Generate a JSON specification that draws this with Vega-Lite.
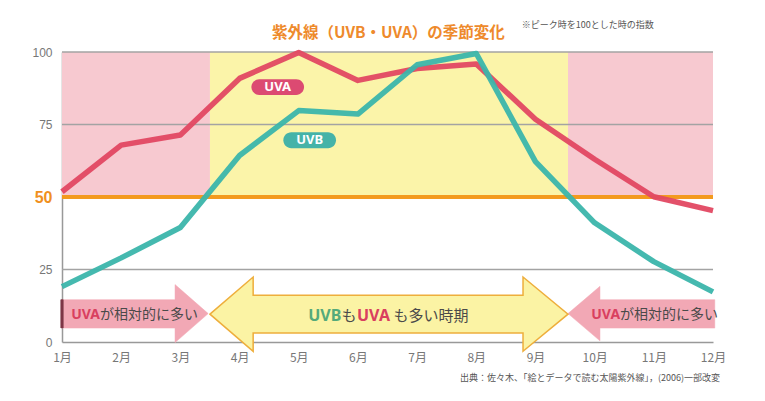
{
  "$schema": "https://vega.github.io/schema/vega-lite/v6.json",
  "width": 651,
  "height": 290,
  "autosize": "none",
  "padding": {"left": 62, "top": 52, "right": 52, "bottom": 59},
  "background": "white",
  "title": {
    "text": "紫外線（UVB・UVA）の季節変化",
    "font": "Noto Sans CJK JP",
    "fontSize": 15.5,
    "fontWeight": "bold",
    "color": "#ee8a2c",
    "anchor": "start",
    "frame": "group",
    "dx": 210,
    "dy": 32,
    "offset": 12
  },
  "config": {"view": {"stroke": null}, "font": "Noto Sans CJK JP"},
  "resolve": {"scale": {"color": "independent"}},
  "datasets": {
    "bands": [
      {"from": 1, "to": 3.5, "zone": "UVA"},
      {"from": 3.5, "to": 9.55, "zone": "both"},
      {"from": 9.55, "to": 12, "zone": "UVA"}
    ],
    "grid": [{"v": 25}, {"v": 75}, {"v": 100}],
    "series": [
      {"month": 1, "series": "UVA", "value": 51.8},
      {"month": 2, "series": "UVA", "value": 67.9},
      {"month": 3, "series": "UVA", "value": 71.4},
      {"month": 4, "series": "UVA", "value": 90.9},
      {"month": 5, "series": "UVA", "value": 99.8},
      {"month": 6, "series": "UVA", "value": 90.2},
      {"month": 7, "series": "UVA", "value": 94.3},
      {"month": 8, "series": "UVA", "value": 95.9},
      {"month": 9, "series": "UVA", "value": 76.8},
      {"month": 10, "series": "UVA", "value": 63.0},
      {"month": 11, "series": "UVA", "value": 50.1},
      {"month": 12, "series": "UVA", "value": 45.3},
      {"month": 1, "series": "UVB", "value": 19.1},
      {"month": 2, "series": "UVB", "value": 29.0},
      {"month": 3, "series": "UVB", "value": 39.5},
      {"month": 4, "series": "UVB", "value": 64.3},
      {"month": 5, "series": "UVB", "value": 79.8},
      {"month": 6, "series": "UVB", "value": 78.6},
      {"month": 7, "series": "UVB", "value": 95.6},
      {"month": 8, "series": "UVB", "value": 99.5},
      {"month": 9, "series": "UVB", "value": 62.2},
      {"month": 10, "series": "UVB", "value": 41.1},
      {"month": 11, "series": "UVB", "value": 27.7},
      {"month": 12, "series": "UVB", "value": 17.3}
    ],
    "arrows": [
      {"shape": "left", "i": 1, "x": 1, "y": 14.6},
      {"shape": "left", "i": 2, "x": 2.91, "y": 14.6},
      {"shape": "left", "i": 3, "x": 2.91, "y": 19.8},
      {"shape": "left", "i": 4, "x": 3.47, "y": 9.8},
      {"shape": "left", "i": 5, "x": 2.91, "y": -0.2},
      {"shape": "left", "i": 6, "x": 2.91, "y": 4.8},
      {"shape": "left", "i": 7, "x": 1, "y": 4.8},
      {"shape": "right", "i": 1, "x": 12.03, "y": 14.6},
      {"shape": "right", "i": 2, "x": 10.09, "y": 14.6},
      {"shape": "right", "i": 3, "x": 10.09, "y": 19.2},
      {"shape": "right", "i": 4, "x": 9.55, "y": 9.8},
      {"shape": "right", "i": 5, "x": 10.09, "y": 0.4},
      {"shape": "right", "i": 6, "x": 10.09, "y": 4.8},
      {"shape": "right", "i": 7, "x": 12.03, "y": 4.8},
      {"shape": "both", "i": 1, "x": 3.5, "y": 9.6},
      {"shape": "both", "i": 2, "x": 4.23, "y": 22.4},
      {"shape": "both", "i": 3, "x": 4.23, "y": 16.1},
      {"shape": "both", "i": 4, "x": 8.79, "y": 16.1},
      {"shape": "both", "i": 5, "x": 8.79, "y": 22.4},
      {"shape": "both", "i": 6, "x": 9.55, "y": 9.6},
      {"shape": "both", "i": 7, "x": 8.79, "y": -3.2},
      {"shape": "both", "i": 8, "x": 8.79, "y": 3.1},
      {"shape": "both", "i": 9, "x": 4.23, "y": 3.1},
      {"shape": "both", "i": 10, "x": 4.23, "y": -3.2}
    ],
    "badges": [
      {"label": "UVA", "x1": 4.2, "x2": 5.09, "y1": 85.2, "y2": 90.6, "cx": 4.645, "cy": 87.9},
      {"label": "UVB", "x1": 4.74, "x2": 5.63, "y1": 66.8, "y2": 72.3, "cx": 5.185, "cy": 69.55}
    ],
    "notes": [
      {"text": "UVA", "kind": "UVA", "grp": "side", "align": "right", "x": 1.642, "y": 9.3},
      {"text": "が相対的に多い", "kind": "jp", "grp": "side", "align": "left", "x": 1.642, "y": 9.3},
      {"text": "UVA", "kind": "UVA", "grp": "side", "align": "right", "x": 10.43, "y": 9.3},
      {"text": "が相対的に多い", "kind": "jp", "grp": "side", "align": "left", "x": 10.43, "y": 9.3},
      {"text": "UVB", "kind": "UVB", "grp": "mid", "align": "right", "x": 5.72, "y": 8.9},
      {"text": "も", "kind": "jp", "grp": "mid", "align": "center", "x": 5.85, "y": 8.9},
      {"text": "UVA", "kind": "UVA", "grp": "mid", "align": "left", "x": 5.985, "y": 8.9},
      {"text": "も多い時期", "kind": "jp", "grp": "mid", "align": "left", "x": 6.6, "y": 8.9}
    ],
    "extra": [
      {"text": "※ピーク時を100とした時の指数", "pos": "note", "x": 8.77, "y": 109.3},
      {"text": "出典：佐々木、「絵とデータで読む太陽紫外線」，(2006)一部改変", "pos": "source", "x": 12.12, "y": -12.4}
    ]
  },
  "layer": [
    {
      "data": {"name": "bands"},
      "mark": {"type": "rect"},
      "encoding": {
        "x": {"field": "from", "type": "quantitative", "scale": {"domain": [1, 12], "nice": false, "zero": false},
          "axis": {"values": [1,2,3,4,5,6,7,8,9,10,11,12], "labelExpr": "datum.value + '月'", "title": null, "grid": false, "ticks": false, "labelFlush": false,
            "domainColor": "#999999", "domainWidth": 1.5, "labelColor": "#777777", "labelFontSize": 12, "labelPadding": 10, "labelFont": "Noto Sans CJK JP"}},
        "x2": {"field": "to"},
        "y": {"datum": 50, "type": "quantitative", "scale": {"domain": [0, 100], "nice": false},
          "axis": {"values": [0, 25, 50, 75, 100], "title": null, "grid": false, "ticks": false, "labelFlush": false, "domainColor": "#999999", "domainWidth": 1.5,
            "labelPadding": 10, "labelFont": "Liberation Sans",
            "labelColor": {"condition": {"test": "datum.value == 50", "value": "#f0901e"}, "value": "#777777"},
            "labelFontSize": {"condition": {"test": "datum.value == 50", "value": 16}, "value": 12},
            "labelFontWeight": {"condition": {"test": "datum.value == 50", "value": "bold"}, "value": "normal"}}},
        "y2": {"datum": 100},
        "color": {"field": "zone", "type": "nominal", "scale": {"domain": ["UVA", "both"], "range": ["#f7c9d0", "#fbf4a9"]}, "legend": null}
      }
    },
    {
      "data": {"name": "grid"},
      "mark": {"type": "rule", "color": "#a3a3a3", "strokeWidth": 1.5},
      "encoding": {"y": {"field": "v", "type": "quantitative"}}
    },
    {
      "data": {"name": "grid"},
      "mark": {"type": "rule", "color": "#f39a1e", "strokeWidth": 3.5},
      "encoding": {"y": {"datum": 50, "type": "quantitative"}}
    },
    {
      "data": {"name": "arrows"},
      "transform": [{"filter": "datum.shape != 'both'"}],
      "mark": {"type": "line", "interpolate": "linear-closed", "fill": "#f2a8b5", "stroke": "#f2a8b5", "strokeWidth": 0.5},
      "encoding": {
        "x": {"field": "x", "type": "quantitative"},
        "y": {"field": "y", "type": "quantitative"},
        "order": {"field": "i", "type": "quantitative"},
        "detail": {"field": "shape", "type": "nominal"}
      }
    },
    {
      "data": {"name": "arrows"},
      "transform": [{"filter": "datum.shape == 'both'"}],
      "mark": {"type": "line", "interpolate": "linear-closed", "fill": "#fbf3a4", "stroke": "#eeae3c", "strokeWidth": 1.5},
      "encoding": {
        "x": {"field": "x", "type": "quantitative"},
        "y": {"field": "y", "type": "quantitative"},
        "order": {"field": "i", "type": "quantitative"}
      }
    },
    {
      "data": {"name": "grid"},
      "mark": {"type": "rule", "color": "#7d3545", "strokeWidth": 2.5},
      "encoding": {"x": {"datum": 1, "type": "quantitative"}, "y": {"datum": 4.8, "type": "quantitative"}, "y2": {"datum": 14.6}}
    },
    {
      "data": {"name": "series"},
      "mark": {"type": "line", "strokeWidth": 5.5, "strokeJoin": "round", "strokeCap": "butt", "opacity": 0.95},
      "encoding": {
        "x": {"field": "month", "type": "quantitative"},
        "y": {"field": "value", "type": "quantitative"},
        "color": {"field": "series", "type": "nominal", "scale": {"domain": ["UVA", "UVB"], "range": ["#e14862", "#3bb5ab"]}, "legend": null}
      }
    },
    {
      "data": {"name": "badges"},
      "transform": [{"filter": "datum.label == 'UVA'"}],
      "mark": {"type": "rect", "cornerRadius": 8, "color": "#dc4a72"},
      "encoding": {
        "x": {"field": "x1", "type": "quantitative"}, "x2": {"field": "x2"},
        "y": {"field": "y1", "type": "quantitative"}, "y2": {"field": "y2"}
      }
    },
    {
      "data": {"name": "badges"},
      "transform": [{"filter": "datum.label == 'UVB'"}],
      "mark": {"type": "rect", "cornerRadius": 8, "color": "#45b3a8"},
      "encoding": {
        "x": {"field": "x1", "type": "quantitative"}, "x2": {"field": "x2"},
        "y": {"field": "y1", "type": "quantitative"}, "y2": {"field": "y2"}
      }
    },
    {
      "data": {"name": "badges"},
      "mark": {"type": "text", "color": "white", "font": "Noto Sans", "fontWeight": "bold", "fontSize": 13, "baseline": "middle", "align": "center"},
      "encoding": {
        "x": {"field": "cx", "type": "quantitative"},
        "y": {"field": "cy", "type": "quantitative"},
        "text": {"field": "label"}
      }
    },
    {
      "data": {"name": "notes"},
      "transform": [{"filter": "datum.grp == 'side' && datum.kind == 'UVA'"}],
      "mark": {"type": "text", "color": "#d9405f", "font": "Noto Sans", "fontWeight": "bold", "fontSize": 14, "baseline": "middle", "align": "right"},
      "encoding": {"x": {"field": "x", "type": "quantitative"}, "y": {"field": "y", "type": "quantitative"}, "text": {"field": "text"}}
    },
    {
      "data": {"name": "notes"},
      "transform": [{"filter": "datum.grp == 'side' && datum.kind == 'jp'"}],
      "mark": {"type": "text", "color": "#4a4a4a", "font": "Noto Sans CJK JP", "fontSize": 14, "baseline": "middle", "align": "left"},
      "encoding": {"x": {"field": "x", "type": "quantitative"}, "y": {"field": "y", "type": "quantitative"}, "text": {"field": "text"}}
    },
    {
      "data": {"name": "notes"},
      "transform": [{"filter": "datum.grp == 'mid' && datum.kind == 'UVB'"}],
      "mark": {"type": "text", "color": "#55aa7a", "font": "Noto Sans", "fontWeight": "bold", "fontSize": 16, "baseline": "middle", "align": "right"},
      "encoding": {"x": {"field": "x", "type": "quantitative"}, "y": {"field": "y", "type": "quantitative"}, "text": {"field": "text"}}
    },
    {
      "data": {"name": "notes"},
      "transform": [{"filter": "datum.grp == 'mid' && datum.kind == 'UVA'"}],
      "mark": {"type": "text", "color": "#d9405f", "font": "Noto Sans", "fontWeight": "bold", "fontSize": 16, "baseline": "middle", "align": "left"},
      "encoding": {"x": {"field": "x", "type": "quantitative"}, "y": {"field": "y", "type": "quantitative"}, "text": {"field": "text"}}
    },
    {
      "data": {"name": "notes"},
      "transform": [{"filter": "datum.grp == 'mid' && datum.kind == 'jp' && datum.align == 'center'"}],
      "mark": {"type": "text", "color": "#4a4a4a", "font": "Noto Sans CJK JP", "fontSize": 15, "baseline": "middle", "align": "center"},
      "encoding": {"x": {"field": "x", "type": "quantitative"}, "y": {"field": "y", "type": "quantitative"}, "text": {"field": "text"}}
    },
    {
      "data": {"name": "notes"},
      "transform": [{"filter": "datum.grp == 'mid' && datum.kind == 'jp' && datum.align == 'left'"}],
      "mark": {"type": "text", "color": "#4a4a4a", "font": "Noto Sans CJK JP", "fontSize": 15, "baseline": "middle", "align": "left"},
      "encoding": {"x": {"field": "x", "type": "quantitative"}, "y": {"field": "y", "type": "quantitative"}, "text": {"field": "text"}}
    },
    {
      "data": {"name": "extra"},
      "transform": [{"filter": "datum.pos == 'note'"}],
      "mark": {"type": "text", "color": "#555555", "font": "Noto Sans CJK JP", "fontSize": 9, "baseline": "middle", "align": "left"},
      "encoding": {"x": {"field": "x", "type": "quantitative"}, "y": {"field": "y", "type": "quantitative"}, "text": {"field": "text"}}
    },
    {
      "data": {"name": "extra"},
      "transform": [{"filter": "datum.pos == 'source'"}],
      "mark": {"type": "text", "color": "#555555", "font": "Noto Sans CJK JP", "fontSize": 9, "baseline": "middle", "align": "right"},
      "encoding": {"x": {"field": "x", "type": "quantitative"}, "y": {"field": "y", "type": "quantitative"}, "text": {"field": "text"}}
    }
  ]
}
